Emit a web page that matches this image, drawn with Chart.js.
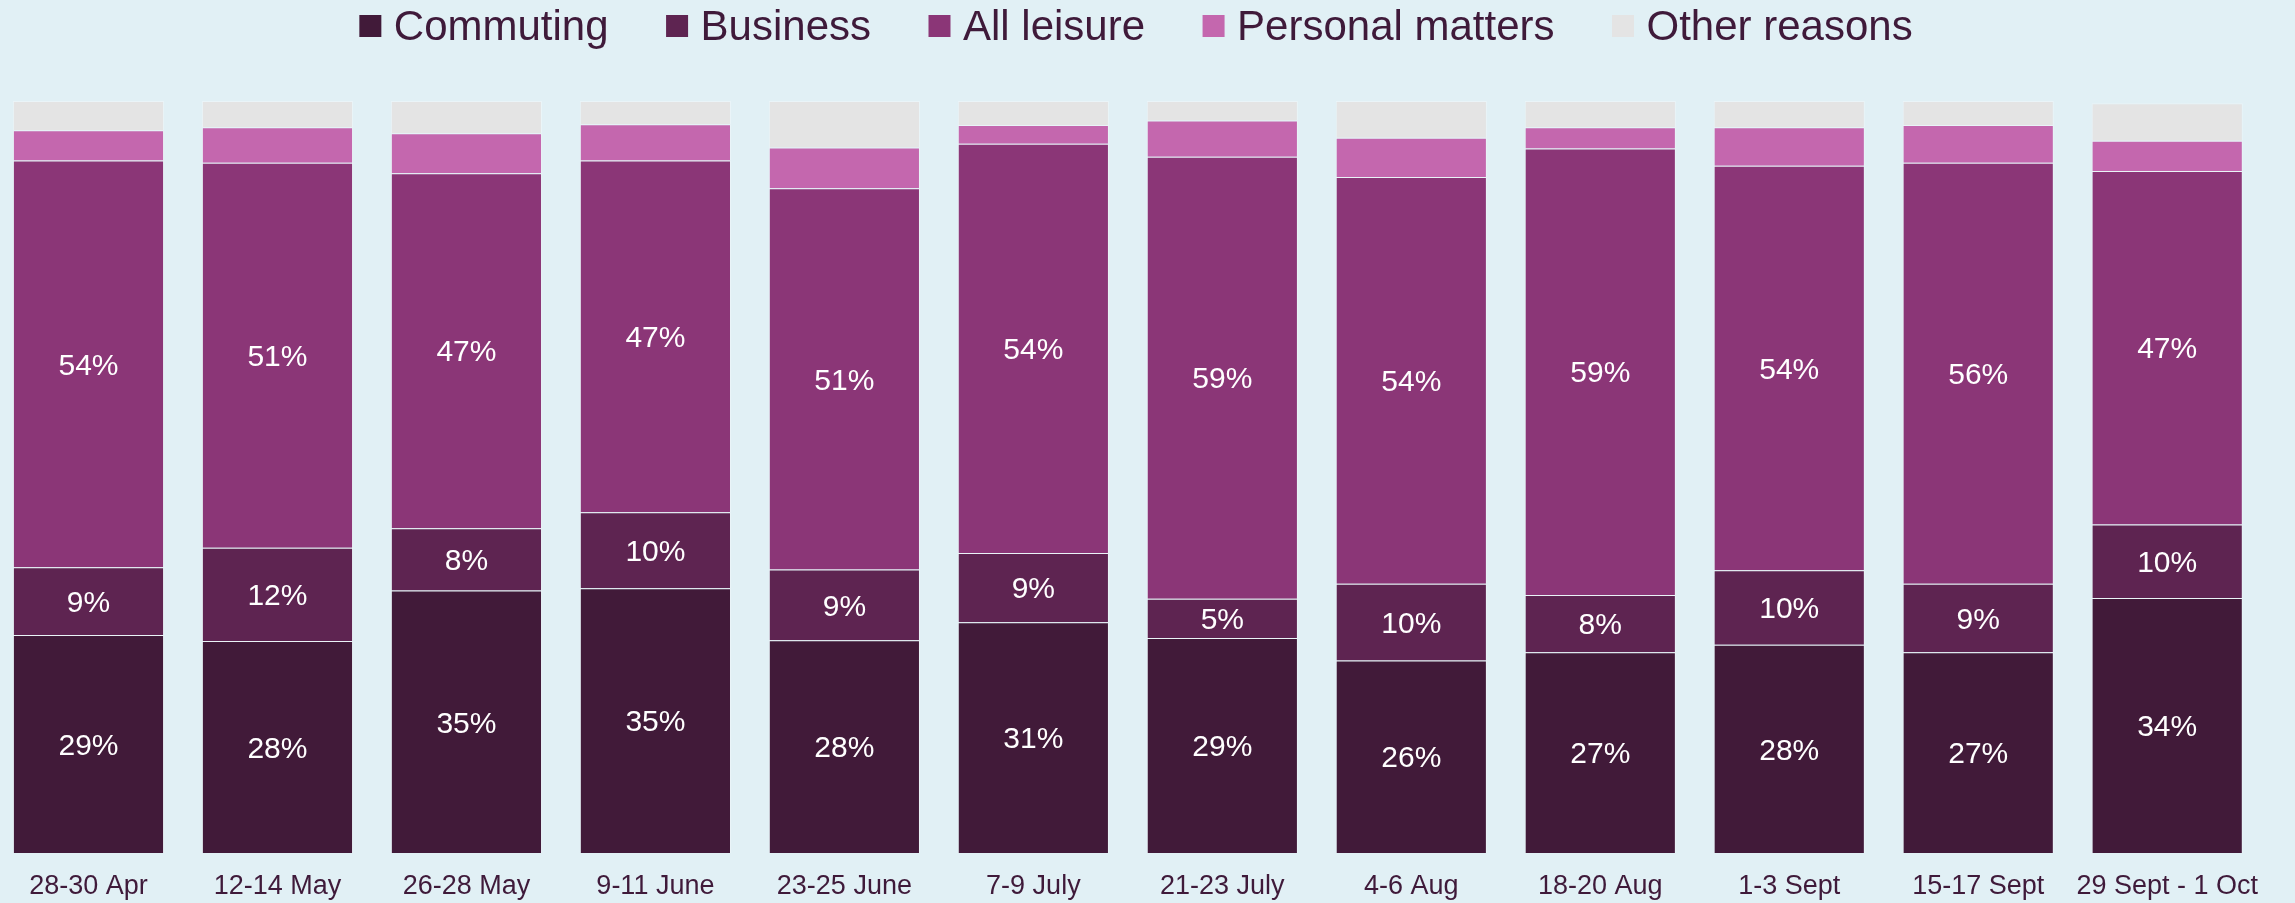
<!DOCTYPE html>
<html>
<head>
<meta charset="utf-8">
<script src="https://cdn.jsdelivr.net/npm/chart.js@4.4.0/dist/chart.umd.min.js"></script>
<style>
  html, body { margin: 0; padding: 0; background: #e1f0f5; overflow: hidden; }
  #wrap { position: absolute; left: -6px; top: 0; width: 2281px; height: 903px; }
</style>
</head>
<body>
<div id="wrap"><canvas id="myChart"></canvas></div>
<script>
//Data (share of trips, %)
var labels = ["28-30 Apr", "12-14 May", "26-28 May", "9-11 June", "23-25 June", "7-9 July",
  "21-23 July", "4-6 Aug", "18-20 Aug", "1-3 Sept", "15-17 Sept", "29 Sept - 1 Oct"];
var commuting = [29.0, 28.2, 34.9, 35.2, 28.3, 30.7, 28.6, 25.6, 26.7, 27.7, 26.7, 33.9];
var business = [9.0, 12.4, 8.3, 10.1, 9.4, 9.2, 5.2, 10.2, 7.6, 9.9, 9.1, 9.8];
var leisure = [54.1, 51.2, 47.2, 46.8, 50.7, 54.4, 58.8, 54.1, 59.4, 53.8, 56.0, 47.0];
var personal = [4.0, 4.7, 5.3, 4.8, 5.4, 2.5, 4.8, 5.2, 2.8, 5.1, 5.0, 4.0];
var other = [3.9, 3.5, 4.3, 3.1, 6.2, 3.2, 2.6, 4.9, 3.5, 3.5, 3.2, 5.0];

var textColor = '#3f1a3a';
Chart.defaults.font.family = '"Liberation Sans", Arial, sans-serif';

function makeSet(name, values, colour) {
  return {
    label: name,
    data: values,
    backgroundColor: colour,
    borderColor: 'rgba(255,255,255,0.3)',
    borderWidth: 1,
    barPercentage: 1,
    categoryPercentage: 0.8
  };
}

//Percent labels inside the first three segments
var segmentLabels = {
  id: 'segmentLabels',
  afterDatasetsDraw: function(chart) {
    var ctx = chart.ctx;
    ctx.save();
    ctx.font = '30px "Liberation Sans", Arial, sans-serif';
    ctx.fillStyle = '#ffffff';
    ctx.textAlign = 'center';
    ctx.textBaseline = 'alphabetic';
    for (var d = 0; d < 3; d++) {
      var meta = chart.getDatasetMeta(d);
      meta.data.forEach(function(bar, i) {
        var p = bar.getProps(['x', 'y', 'base'], true);
        var mid = (p.y + p.base) / 2;
        var v = chart.data.datasets[d].data[i];
        ctx.fillText(Math.round(v) + '%', p.x, mid + 30 * 0.358);
      });
    }
    ctx.restore();
  }
};

//Legend across the top
var topLegend = {
  id: 'topLegend',
  afterDraw: function(chart) {
    var ctx = chart.ctx;
    var box = 22, gapText = 12.5, gapItem = 57.5;
    ctx.save();
    ctx.font = '42px "Liberation Sans", Arial, sans-serif';
    var sets = chart.data.datasets;
    var total = 0;
    sets.forEach(function(s, i) {
      total += box + gapText + ctx.measureText(s.label).width;
      if (i < sets.length - 1) total += gapItem;
    });
    var x = chart.width / 2 + 1.5 - total / 2;
    ctx.textBaseline = 'alphabetic';
    ctx.textAlign = 'left';
    sets.forEach(function(s) {
      ctx.fillStyle = s.backgroundColor;
      ctx.fillRect(x, 15, box, box);
      x += box + gapText;
      ctx.fillStyle = textColor;
      ctx.fillText(s.label, x, 40);
      x += ctx.measureText(s.label).width + gapItem;
    });
    ctx.restore();
  }
};

var data = {
  labels: labels,
  datasets: [
    makeSet('Commuting', commuting, '#411a39'),
    makeSet('Business', business, '#5e2451'),
    makeSet('All leisure', leisure, '#8b3677'),
    makeSet('Personal matters', personal, '#c467ae'),
    makeSet('Other reasons', other, '#e4e4e4')
  ]
};

var config = {
  type: 'bar',
  data: data,
  options: {
    responsive: true,
    maintainAspectRatio: false,
    animation: false,
    layout: { autoPadding: false, padding: { top: 101, bottom: 1, left: 0, right: 0 } },
    plugins: {
      legend: { display: false },
      tooltip: { enabled: false }
    },
    scales: {
      x: {
        stacked: true,
        grid: { display: false, drawTicks: false },
        border: { display: false },
        ticks: { color: textColor, font: { size: 27 }, padding: 17, maxRotation: 0, autoSkip: false },
        afterFit: function(scale) { scale.height = 49; }
      },
      y: {
        stacked: true,
        display: false,
        min: 0,
        max: 100
      }
    }
  },
  plugins: [segmentLabels, topLegend]
};

//Initializes Chart
var myChart = new Chart(document.getElementById('myChart'), config);
</script>
</body>
</html>
